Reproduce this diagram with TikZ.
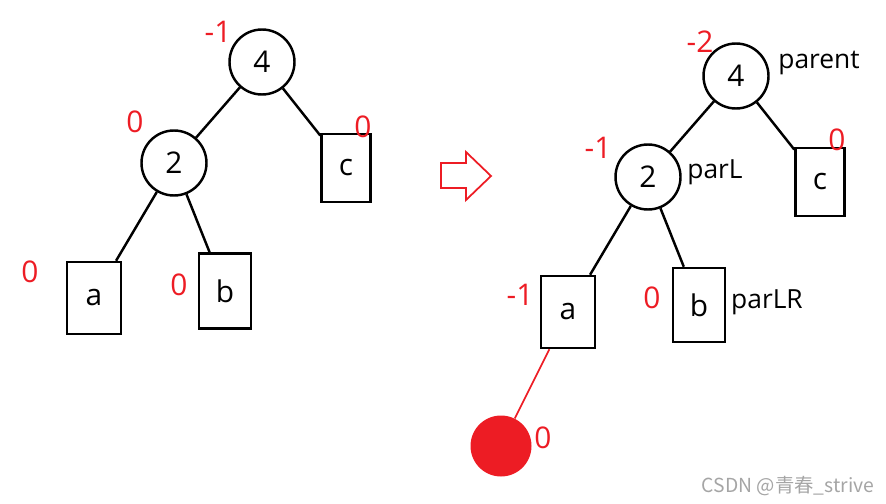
\documentclass[tikz,border=0pt]{standalone}
\usepackage{fontspec}
\setmainfont{Open Sans}
\newfontfamily\cjkfont{Noto Sans CJK SC}
\usepackage{xcolor}
\usetikzlibrary{positioning}
\definecolor{paintred}{RGB}{237,28,36}
\definecolor{markgray}{RGB}{165,165,165}

\begin{document}
\begin{tikzpicture}[
    font=\fontsize{15}{18}\selectfont,
    key/.style={
        draw,
        circle,
        line width=1.4pt,
        minimum size=1.3cm,
        inner sep=0pt,
        font=\fontsize{17}{20}\selectfont
    },
    leaf/.style={
        draw,
        rectangle,
        line width=1.4pt,
        minimum width=1.04cm,
        minimum height=1.42cm,
        inner sep=0pt,
        font=\fontsize{17}{20}\selectfont
    },
    bf/.style={text=paintred, inner sep=1pt, font=\fontsize{17}{20}\selectfont},
    tag/.style={inner sep=1pt},
    link/.style={line width=1.4pt}
]
\useasboundingbox (0,0) rectangle (17.72,-10.08);

% Before insertion
\node[key] (lfour) at (5.24,-1.24) {4};
\node[key] (ltwo) at (3.48,-3.26) {2};
\node[leaf, minimum width=0.98cm, minimum height=1.36cm] (lc) at (6.92,-3.36) {c};
\node[leaf, minimum width=1.08cm, minimum height=1.44cm] (la) at (1.88,-5.96) {a};
\node[leaf, minimum height=1.5cm] (lb) at (4.50,-5.82) {b};

\draw[link] (lfour) -- (ltwo);
\draw[link] (lfour) -- (lc);
\draw[link] (ltwo) -- (la);
\draw[link] (ltwo) -- (lb);

\node[bf] (bflfour) at (4.36,-0.64) {-1};
\node[bf] (bfltwo) at (2.70,-2.44) {0};
\node[bf] (bflc) at (7.26,-2.54) {0};
\node[bf] (bfla) at (0.60,-5.44) {0};
\node[bf] (bflb) at (3.58,-5.70) {0};

% Arrow
\draw[paintred, line width=1pt, line join=miter]
    (8.82,-3.26) -- (9.32,-3.26) -- (9.32,-3.04) -- (9.82,-3.52)
    -- (9.32,-4.00) -- (9.32,-3.76) -- (8.82,-3.76) -- cycle;

% After insertion
\node[key] (rfour) at (14.72,-1.52) {4};
\node[key] (rtwo) at (12.96,-3.54) {2};
\node[leaf, minimum width=0.98cm, minimum height=1.36cm] (rc) at (16.40,-3.64) {c};
\node[leaf, minimum width=1.08cm, minimum height=1.44cm] (ra) at (11.36,-6.24) {a};
\node[leaf, minimum height=1.48cm] (rb) at (13.98,-6.10) {b};
\node[circle, fill=paintred, minimum size=1.22cm, inner sep=0pt] (rnew) at (10.02,-8.92) {};

\draw[link] (rfour) -- (rtwo);
\draw[link] (rfour) -- (rc);
\draw[link] (rtwo) -- (ra);
\draw[link] (rtwo) -- (rb);
\draw[paintred, line width=1pt] (ra) -- (rnew);

\node[bf] (bfrfour) at (14.00,-0.84) {-2};
\node[bf] (bfrtwo) at (11.96,-2.96) {-1};
\node[bf] (bfrc) at (16.74,-2.80) {0};
\node[bf] (bfra) at (10.40,-5.90) {-1};
\node[bf] (bfrb) at (13.04,-5.96) {0};
\node[bf] (bfrnew) at (10.86,-8.76) {0};

\node[tag] (tparent) at (16.38,-1.26) {parent};
\node[tag] (tparl) at (14.30,-3.44) {parL};
\node[tag] (tparlr) at (15.34,-6.04) {parLR};

% Watermark
\node[text=markgray, font=\cjkfont\fontsize{11}{13}\selectfont] (mark) at (15.76,-9.72) {CSDN @青春\_strive};

\end{tikzpicture}
\end{document}
